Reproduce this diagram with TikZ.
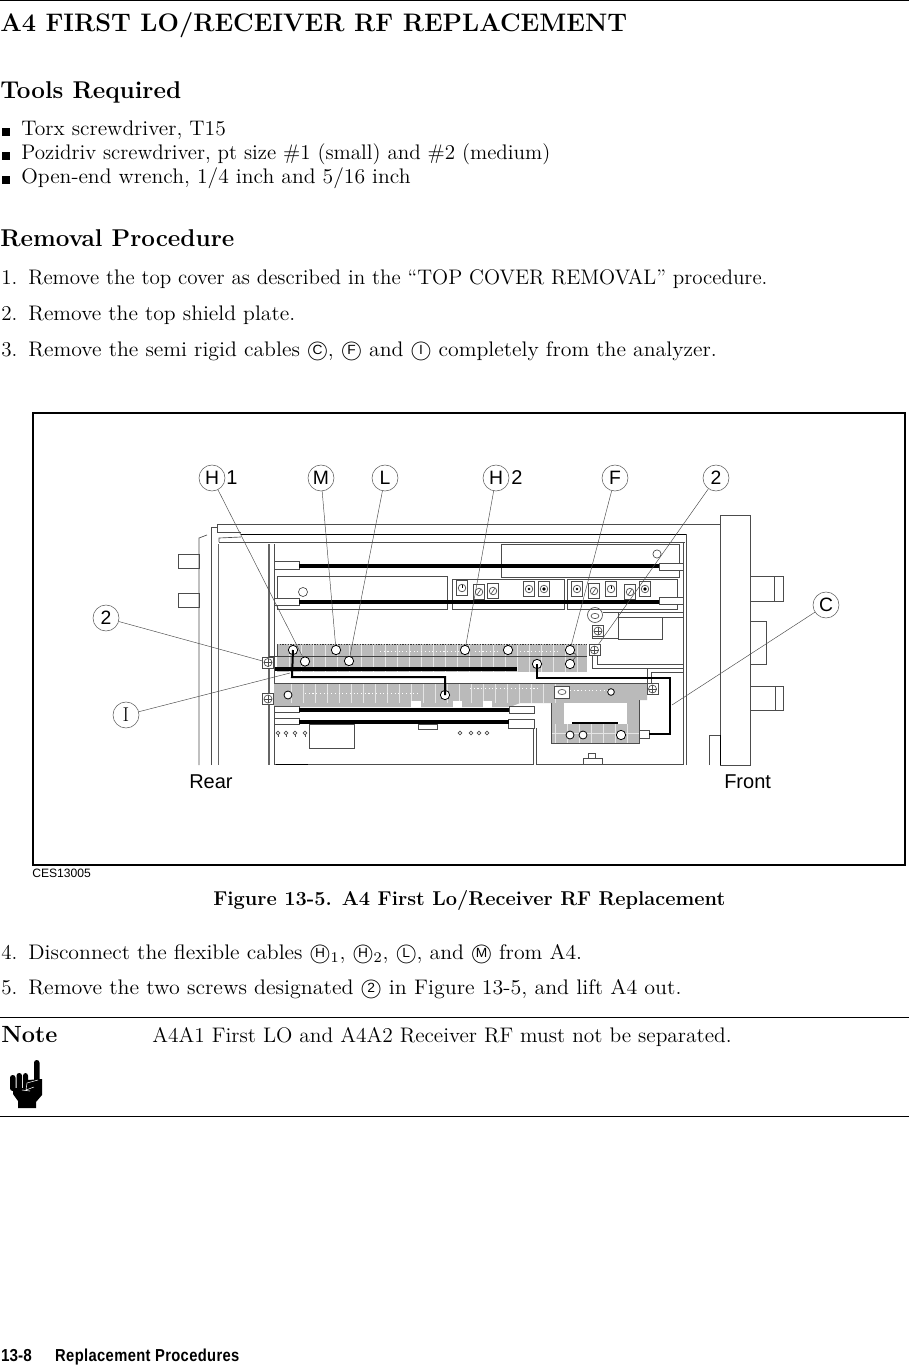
\documentclass[tikz,border=0pt]{standalone}
\usepackage{fontspec}
\setsansfont{Liberation Sans}
\newcommand{\Cap}[1]{\ooalign{\hfil\raisebox{0.2ex}{\sffamily\fontsize{7.2}{7.2}\selectfont #1}\hfil\crcr\fontsize{10.8}{10.8}\selectfont$\bigcirc$}}
\tikzset{
  txt/.style={anchor=base west,inner sep=0pt,transform shape,scale=1.386,font=\fontsize{11.4}{13}\selectfont},
  head/.style={anchor=base west,inner sep=0pt,font=\fontsize{18.2}{20}\selectfont\bfseries},
  callout/.style={circle,draw=black!65,line width=0.4pt,inner sep=0pt,minimum size=19.5pt,font=\sffamily\fontsize{14.5}{14.5}\selectfont},
  sanslab/.style={anchor=base west,inner sep=0pt,font=\sffamily\fontsize{15}{15}\selectfont},
  leader/.style={draw=black!70,line width=0.35pt},
  part/.style={draw=black!70,line width=0.5pt},
  bar/.style={line width=3.4pt,black},
  cable/.style={line width=1.5pt,black},
  hole/.style={circle,draw,fill=white,line width=0.6pt,minimum size=7pt,inner sep=0pt},
  trim/.style={draw=black!70,fill=white,line width=0.5pt,minimum width=8.5pt,minimum height=11pt,inner sep=0pt},
  screw/.style={draw=black!70,fill=white,line width=0.5pt,minimum size=8.5pt,inner sep=0pt},
  gridline/.style={draw=black!10,line width=0.35pt},
  speck/.style={white,line width=0.6pt,dash pattern=on 0.8pt off 2pt}
}
\begin{document}
\begin{tikzpicture}[x=0.75pt,y=-0.75pt]
\useasboundingbox (0,0) rectangle (909,1366);

% page rules
\draw[line width=0.7pt] (0,0.5) -- (909,0.5);
\draw[line width=0.7pt] (0,1017) -- (909,1017);
\draw[line width=0.7pt] (0,1116) -- (909,1116);

% headings
\node[head,font=\fontsize{19}{21}\selectfont\bfseries] (title) at (0,32) {A4 FIRST LO/RECEIVER RF REPLACEMENT};
\node[head] (tools) at (0,99) {Tools Required};
\node[head] (removal) at (0,246) {Removal Procedure};

% tools list
\foreach \ypos/\wide/\txtline in {136/1.025/{Torx screwdriver, T15},160/1/{Pozidriv screwdriver, pt size \#1 (small) and \#2 (medium)},184/1.029/{Open-end wrench, 1/4 inch and 5/16 inch}}{
  \fill (2,\ypos-8) rectangle (9.5,\ypos);
  \node[txt,xscale=\wide] at (21,\ypos) {\txtline};
}

% steps
\node[txt] (s1) at (1,284) {1.};
\node[txt] at (28,284) {Remove the top cover as described in the ``TOP COVER REMOVAL'' procedure.};
\node[txt] (s2) at (1,320) {2.};
\node[txt,xscale=1.031] at (28,320) {Remove the top shield plate.};
\node[txt] (s3) at (1,356) {3.};
\node[txt,xscale=1.035] at (28,356) {Remove the semi rigid cables \Cap{C}, \Cap{F} and \Cap{I} completely from the analyzer.};
\node[txt] (s4) at (1,959) {4.};
\node[txt,xscale=1.034] at (28,959) {Disconnect the flexible cables \Cap{H}$_1$, \Cap{H}$_2$, \Cap{L}, and \Cap{M} from A4.};
\node[txt] (s5) at (1,994) {5.};
\node[txt,xscale=1.043] at (28,994) {Remove the two screws designated \Cap{2} in Figure 13-5, and lift A4 out.};

% figure frame
\draw[line width=1.4pt] (33,413) rectangle (905,865);
\node[anchor=base west,inner sep=0pt,font=\sffamily\fontsize{9.1}{10}\selectfont] (ces) at (32,877) {CES13005};
\node[head,font=\fontsize{15}{17}\selectfont\bfseries] (figcap) at (213,905) {Figure 13-5. A4 First Lo/Receiver RF Replacement};

% chassis
\draw[part] (217,524) -- (720,524);
\draw[part] (217,524) -- (217,532) -- (241,532);
\draw[line width=0.7pt] (241,534) -- (687,534);
\draw[part] (219,542) -- (219,538) -- (241,537);
\draw[part] (219,542) -- (685,542);
\draw[part] (199,765) -- (199,538) -- (207,535);
\draw[part] (211,765) -- (211,527) -- (217,527);
\draw[draw=black!60,line width=1.3pt] (218.5,544) -- (218.5,765);
\draw[draw=black!60,line width=1.3pt] (269,544) -- (269,765);
\draw[part] (274,544) -- (274,765);
\draw[part] (683,542) -- (683,765);
\draw[part] (686,534) -- (686,765);
\draw[part] (178,554) rectangle (199,568);
\draw[part] (178,593) rectangle (199,607);

% front panel
\draw[part] (720,515) rectangle (750,765);
\draw[line width=0.7pt] (720,735) -- (720,765);
\draw[part] (709,765) -- (709,735) -- (720,735);
\draw[part] (750,576) rectangle (783,601);
\draw[part] (774,576) -- (774,601);
\draw[part] (750,621) rectangle (766,664);
\draw[part] (750,686) rectangle (783,710);
\draw[part] (775,686) -- (775,710);

% upper boards
\draw[part] (277,576) rectangle (447,609);
\draw[part] (501,544) rectangle (679,577);
\draw[part] (452,579) rectangle (564,609);
\draw[part] (567,579) rectangle (677,609);
\node[hole,draw=black!70,line width=0.5pt,minimum size=6.8pt] (upa) at (303,592) {};
\node[hole,draw=black!70,line width=0.5pt,minimum size=6.2pt] (upb) at (657,554) {};
\foreach \xpos/\ypos in {462/588,479/592,493/591,529/589,544/589,577/589,594/591,611/589,630/592,645/589}{
  \node[trim] at (\xpos,\ypos) {};
  \draw[part] (\xpos,\ypos) circle[radius=3.8];
}
\fill[black] (529,589) circle[radius=1.3] (544,589) circle[radius=1.8] (577,589) circle[radius=1.3] (645,589) circle[radius=1.8];
\foreach \xpos/\ypos in {479/592,493/591,594/591,630/592}{
  \draw[part] (\xpos-2,\ypos+3) -- (\xpos+2,\ypos-3);
}
\foreach \xpos/\ypos in {462/588,611/589}{
  \draw[line width=0.7pt] (\xpos,\ypos-3) -- (\xpos,\ypos);
}
\draw[part,fill=white] (274,561) rectangle (299,569);
\draw[part,fill=white] (274,598) rectangle (299,605);
\draw[part,fill=white] (659,563) rectangle (683,570);
\draw[part,fill=white] (659,597) rectangle (683,604);
\draw[bar] (299,566) -- (659,566);
\draw[bar] (299,602) -- (659,602);

% right hand brackets
\draw[part] (603,612) -- (683,612);
\draw[part] (618,617) -- (683,617);
\draw[part] (618,612) -- (618,639) -- (662,639) -- (662,617);
\draw[part] (592,627) -- (592,638) -- (618,638);
\draw[part] (597,656) -- (597,664) -- (683,664);
\draw[part] (592,656) -- (592,668) -- (683,668);
\draw[part] (647,668) -- (647,683);
\draw[part] (651,683) -- (651,672) -- (683,672);
\draw[part] (595,615) circle[radius=7.5];
\draw[part] (595,616) ellipse[x radius=4,y radius=2.6];

% lower boards
\fill[black!27] (277,644) rectangle (587,672);
\fill[black!27] (274,683) -- (647,683) -- (647,700) -- (639,700) -- (639,743) -- (551,743) -- (551,703) -- (520,703) -- (510,707) -- (274,707) -- cycle;
\fill[white] (564,703) rectangle (627,724);
\begin{scope}
  \clip (277,644) rectangle (587,672);
  \foreach \xpos in {289,301,...,585}{\draw[gridline] (\xpos,644) -- (\xpos,672);}
\end{scope}
\begin{scope}
  \clip (274,683) -- (647,683) -- (647,700) -- (639,700) -- (639,743) -- (551,743) -- (551,703) -- (520,703) -- (510,707) -- (274,707) -- cycle;
  \foreach \xpos in {291,303,...,560}{\draw[gridline] (\xpos,683) -- (\xpos,703);}
  \foreach \xpos in {555,567,...,639}{\draw[gridline] (\xpos,724) -- (\xpos,743);}
  \draw[gridline] (551,733) -- (639,733);
  \draw[speck] (305,693) -- (420,693);
  \draw[speck] (570,690) -- (610,690);
  \draw[speck] (470,688) -- (540,688);
\end{scope}
\draw[speck] (380,651) -- (460,651);
\draw[speck] (475,651) -- (500,651);
\draw[speck] (520,651) -- (560,651);
\draw[draw=black!80,line width=0.35pt,dash pattern=on 1pt off 1pt] (277,644) -- (587,644);
\draw[draw=black!75,line width=0.5pt] (269,656) -- (587,656);
\draw[part] (277,644) -- (277,656);
\draw[bar] (275,669) -- (517,669);
\draw[part] (551,703) -- (551,743) -- (639,743) -- (639,700);
\draw[part] (274,683) -- (647,683);
\foreach \xpos/\wid in {411/10,453/9,483/9}{
  \fill[white] (\xpos,701) rectangle ++(\wid,8);
}
\draw[part,fill=white] (274,706) rectangle (299,712);
\draw[part,fill=white] (274,718) rectangle (299,724);
\draw[part,fill=white] (509,706) rectangle (534,713);
\draw[part,fill=white] (508,719) rectangle (534,728);
\draw[bar] (299,710) -- (509,710);
\draw[bar] (299,722) -- (509,722);
\draw[line width=2.2pt] (572,723) -- (618,723);

% below the boards
\draw[part] (309,724) rectangle (354,748);
\draw[part] (418,724) rectangle (437,729);
\draw[part] (274,764) -- (533,764);
\draw[line width=0.7pt] (276,764) -- (308,764);
\draw[part] (533,728) -- (533,765);
\draw[part] (536,728) -- (536,765);
\draw[part] (536,764) -- (683,764);
\draw[part] (583,765) -- (583,758) -- (602,758) -- (602,765);
\draw[part] (588,758) -- (588,753) -- (595,753) -- (595,758);
\foreach \xpos in {278,286,295,305,460,471,479,487}{
  \draw[part] (\xpos,733) circle[radius=1.8];
}
\foreach \xpos in {278,286,295,305}{
  \draw[part] (\xpos,735) -- (\xpos,737);
}

% holes on the boards
\node[hole] (jh1) at (293,650) {};
\node[hole] (jh1b) at (305,661.5) {};
\node[hole] (jm) at (336,650) {};
\node[hole] (jl) at (349,661) {};
\node[hole] (jh2) at (465,650) {};
\node[hole] (jb) at (508,650) {};
\node[hole] (jf) at (570,650) {};
\node[hole] (jc) at (570,664) {};
\node[hole] (jx) at (537,664) {};
\node[hole,minimum size=6pt] (jw) at (288,695) {};
\node[hole] (jy) at (445,695) {};
\node[hole,minimum size=5pt] (jz) at (611,692) {};
\node[hole,minimum size=6pt] (ju) at (570,735) {};
\node[hole,minimum size=6pt] (jv) at (583,735) {};
\node[hole,minimum size=7pt] (jt) at (621,735) {};
\node[draw=black!70,fill=white,line width=0.5pt,minimum width=11pt,minimum height=9pt,inner sep=0pt] (jr) at (562,692) {};
\draw[part] (562,692) ellipse[x radius=4,y radius=2.5];
\node[draw=black!70,fill=white,line width=0.5pt,minimum width=7.5pt,minimum height=6pt,inner sep=0pt] (jq) at (644,734) {};
\draw[draw=black!70,line width=0.4pt] (jf) .. controls (577,655) .. (jc);

% screws
\foreach \nm/\xpos/\ypos in {sa/268/662.5,sb/268/699,sc/594.5/650,sd/598/631,se/652.5/689}{
  \node[screw] (\nm) at (\xpos,\ypos) {};
  \draw[part] (\xpos,\ypos) circle[radius=4];
  \draw[part] (\xpos,\ypos-4) -- (\xpos,\ypos+4) (\xpos-4,\ypos) -- (\xpos+4,\ypos);
}

% flexible cables
\draw[cable] (jh1.center) -- (292,677) -- (445,677) -- (jy.center);
\draw[cable] (jx.center) -- (537,678) -- (670,678) -- (670,734) -- (jq.east);

% callouts
\node[callout] (h1) at (212,478) {H};
\node[callout] (m) at (321,478) {M};
\node[callout] (l) at (385,478) {L};
\node[callout] (h2) at (496,478) {H};
\node[callout] (f) at (615,478) {F};
\node[callout] (tr) at (716,478) {2};
\node[callout] (c) at (826,605) {C};
\node[callout] (tl) at (106,618) {2};
\node[callout,font=\fontsize{15}{15}\selectfont] (i) at (126,715) {I};
\node[sanslab] (one) at (226,484) {1};
\node[sanslab] (two) at (511,484) {2};
\node[sanslab] (rear) at (189,788) {Rear};
\node[sanslab] (front) at (724,788) {Front};

% leaders
\coordinate (ci) at (290,673);
\coordinate (cc) at (672,705);
\draw[leader] (h1) -- (jh1b);
\draw[leader] (m) -- (jm);
\draw[leader] (l) -- (jl);
\draw[leader] (h2) -- (jh2);
\draw[leader] (f) -- (jf);
\draw[leader] (tr) -- (sc);
\draw[leader] (tl) -- (sa);
\draw[leader] (i) -- (ci);
\draw[leader] (c) -- (cc);

% note
\node[head,font=\fontsize{17.6}{19}\selectfont\bfseries] (note) at (1,1042) {Note};
\node[txt,xscale=1.018] (notetxt) at (152,1042) {A4A1 First LO and A4A2 Receiver RF must not be separated.};
% pointing hand
\fill[rounded corners=2pt] (34,1060) rectangle (39.5,1084);
\fill[rounded corners=2pt] (10,1075) rectangle (15.5,1091);
\fill[rounded corners=2pt] (16.5,1073) rectangle (22,1091);
\fill[rounded corners=2pt] (23,1073) rectangle (28,1090);
\fill (28,1080) -- (42,1079) -- (42,1095) -- (36,1102) -- (36,1108) -- (18,1108) -- (18,1101) -- (13,1094) -- (13,1088) -- (28,1088) -- cycle;
\draw[white,line width=0.4pt] (27,1083) -- (38,1080) (27,1083) -- (26,1090) -- (34,1087) (22,1090) -- (30,1091);

% footer
\node[anchor=base west,inner sep=0pt,transform shape,xscale=0.88,font=\sffamily\bfseries\fontsize{13}{14}\selectfont] (footnum) at (1,1361) {13-8};
\node[anchor=base west,inner sep=0pt,transform shape,xscale=0.85,font=\sffamily\bfseries\fontsize{13}{14}\selectfont\addfontfeature{LetterSpace=2.5}] (foot) at (55,1361) {Replacement Procedures};
\end{tikzpicture}
\end{document}
